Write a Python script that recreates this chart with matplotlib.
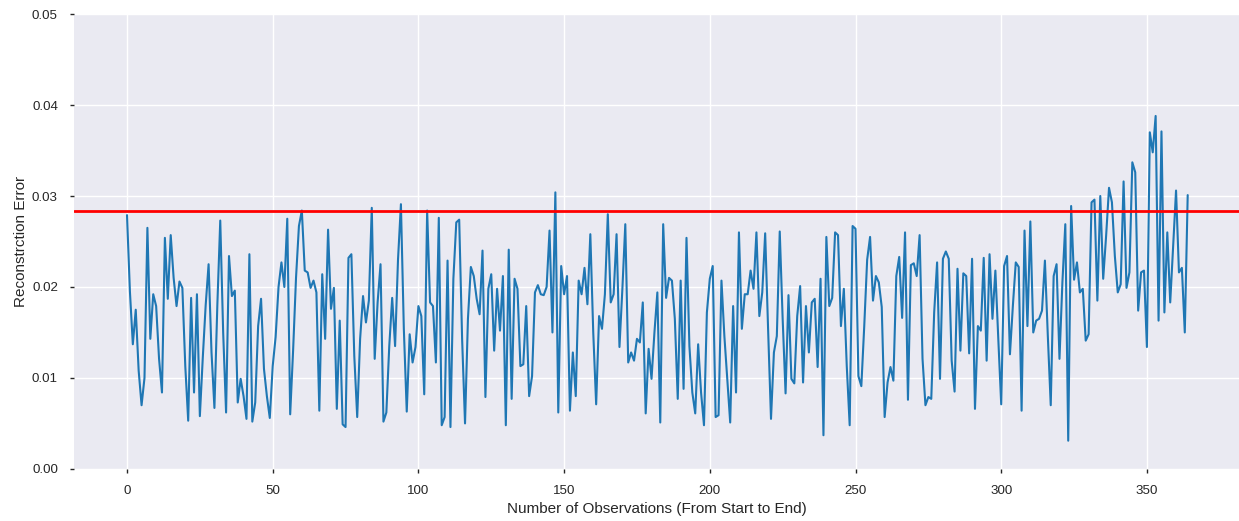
import numpy as np
import matplotlib
matplotlib.use("Agg")
import matplotlib.pyplot as plt

errors = [
    0.0279, 0.0195, 0.0137, 0.0175, 0.0108, 0.0070, 0.0100, 0.0265, 0.0143, 0.0192,
    0.0179, 0.0121, 0.0084, 0.0254, 0.0187, 0.0257, 0.0210, 0.0179, 0.0206, 0.0199,
    0.0113, 0.0053, 0.0188, 0.0084, 0.0192, 0.0058, 0.0122, 0.0180, 0.0225, 0.0128,
    0.0067, 0.0180, 0.0273, 0.0150, 0.0062, 0.0234, 0.0190, 0.0196, 0.0073, 0.0099,
    0.0080, 0.0055, 0.0236, 0.0052, 0.0073, 0.0157, 0.0187, 0.0110, 0.0080, 0.0056,
    0.0113, 0.0145, 0.0200, 0.0227, 0.0200, 0.0275, 0.0060, 0.0130, 0.0210, 0.0267,
    0.0284, 0.0218, 0.0216, 0.0199, 0.0207, 0.0194, 0.0064, 0.0214, 0.0143, 0.0263,
    0.0176, 0.0199, 0.0066, 0.0163, 0.0049, 0.0046, 0.0232, 0.0236, 0.0124, 0.0057,
    0.0143, 0.0190, 0.0161, 0.0185, 0.0287, 0.0121, 0.0183, 0.0225, 0.0052, 0.0062,
    0.0135, 0.0188, 0.0135, 0.0230, 0.0291, 0.0154, 0.0063, 0.0148, 0.0117, 0.0134,
    0.0179, 0.0168, 0.0082, 0.0284, 0.0183, 0.0179, 0.0117, 0.0276, 0.0048, 0.0057,
    0.0229, 0.0046, 0.0209, 0.0271, 0.0274, 0.0143, 0.0050, 0.0165, 0.0222, 0.0212,
    0.0187, 0.0170, 0.0240, 0.0079, 0.0198, 0.0214, 0.0130, 0.0198, 0.0152, 0.0212,
    0.0048, 0.0241, 0.0077, 0.0209, 0.0198, 0.0113, 0.0115, 0.0179, 0.0080, 0.0102,
    0.0194, 0.0202, 0.0192, 0.0191, 0.0200, 0.0262, 0.0150, 0.0304, 0.0062, 0.0223,
    0.0192, 0.0212, 0.0064, 0.0128, 0.0080, 0.0207, 0.0192, 0.0221, 0.0181, 0.0258,
    0.0150, 0.0071, 0.0168, 0.0154, 0.0192, 0.0280, 0.0183, 0.0192, 0.0258, 0.0134,
    0.0198, 0.0269, 0.0117, 0.0128, 0.0119, 0.0143, 0.0139, 0.0183, 0.0061, 0.0132,
    0.0099, 0.0150, 0.0194, 0.0051, 0.0269, 0.0188, 0.0210, 0.0207, 0.0165, 0.0077,
    0.0207, 0.0088, 0.0254, 0.0135, 0.0084, 0.0061, 0.0137, 0.0084, 0.0048, 0.0172,
    0.0209, 0.0223, 0.0057, 0.0059, 0.0207, 0.0146, 0.0099, 0.0051, 0.0179, 0.0084,
    0.0260, 0.0154, 0.0192, 0.0192, 0.0218, 0.0198, 0.0260, 0.0168, 0.0194, 0.0259,
    0.0154, 0.0055, 0.0128, 0.0146, 0.0261, 0.0165, 0.0083, 0.0191, 0.0099, 0.0094,
    0.0168, 0.0201, 0.0095, 0.0179, 0.0128, 0.0183, 0.0187, 0.0112, 0.0209, 0.0037,
    0.0255, 0.0179, 0.0188, 0.0260, 0.0257, 0.0157, 0.0198, 0.0113, 0.0048, 0.0267,
    0.0264, 0.0102, 0.0091, 0.0157, 0.0230, 0.0255, 0.0185, 0.0212, 0.0205, 0.0178,
    0.0057, 0.0095, 0.0112, 0.0097, 0.0212, 0.0233, 0.0166, 0.0260, 0.0076, 0.0224,
    0.0226, 0.0212, 0.0257, 0.0121, 0.0070, 0.0079, 0.0077, 0.0172, 0.0227, 0.0099,
    0.0231, 0.0239, 0.0231, 0.0119, 0.0085, 0.0220, 0.0130, 0.0215, 0.0212, 0.0127,
    0.0231, 0.0066, 0.0157, 0.0152, 0.0232, 0.0119, 0.0236, 0.0165, 0.0218, 0.0143,
    0.0071, 0.0223, 0.0234, 0.0126, 0.0179, 0.0227, 0.0222, 0.0064, 0.0262, 0.0157,
    0.0272, 0.0150, 0.0163, 0.0165, 0.0174, 0.0229, 0.0146, 0.0070, 0.0212, 0.0225,
    0.0121, 0.0205, 0.0269, 0.0031, 0.0289, 0.0208, 0.0227, 0.0194, 0.0198, 0.0141,
    0.0148, 0.0293, 0.0296, 0.0185, 0.0300, 0.0209, 0.0256, 0.0309, 0.0293, 0.0234,
    0.0194, 0.0203, 0.0316, 0.0199, 0.0216, 0.0337, 0.0326, 0.0174, 0.0216, 0.0218,
    0.0134, 0.0370, 0.0348, 0.0388, 0.0163, 0.0371, 0.0172, 0.0260, 0.0183, 0.0245,
    0.0306, 0.0216, 0.0221, 0.0150, 0.0301,
]
threshold = 0.0284
ylim = (0.0, 0.05)

plt.style.use("seaborn-v0_8")
plt.rcParams["font.family"] = ["Liberation Sans", "DejaVu Sans"]

fig = plt.figure(figsize=(12.39, 5.21), dpi=100)
ax = fig.add_axes([0.0597, 0.1, 0.9417, 0.873])

ax.plot(np.arange(len(errors)), errors, color="#1f77b4", linewidth=1.5)
ax.axhline(threshold, color="red", linewidth=2)

ax.set_ylim(ylim)
ax.set_xlim(-18.2, 382.2)
ax.set_xticks(np.arange(0, 351, 50))
ax.set_yticks(np.arange(0, 0.051, 0.01))
ax.tick_params(axis="both", labelsize=9.6, length=3, width=1, color="#262626",
               labelcolor="#262626", pad=8.5)
ax.set_xlabel("Number of Observations (From Start to End)", fontsize=11, color="#262626", labelpad=4)
ax.set_ylabel("Reconstrction Error", fontsize=11, color="#262626", labelpad=3)

fig.savefig("out.png", dpi=100)
